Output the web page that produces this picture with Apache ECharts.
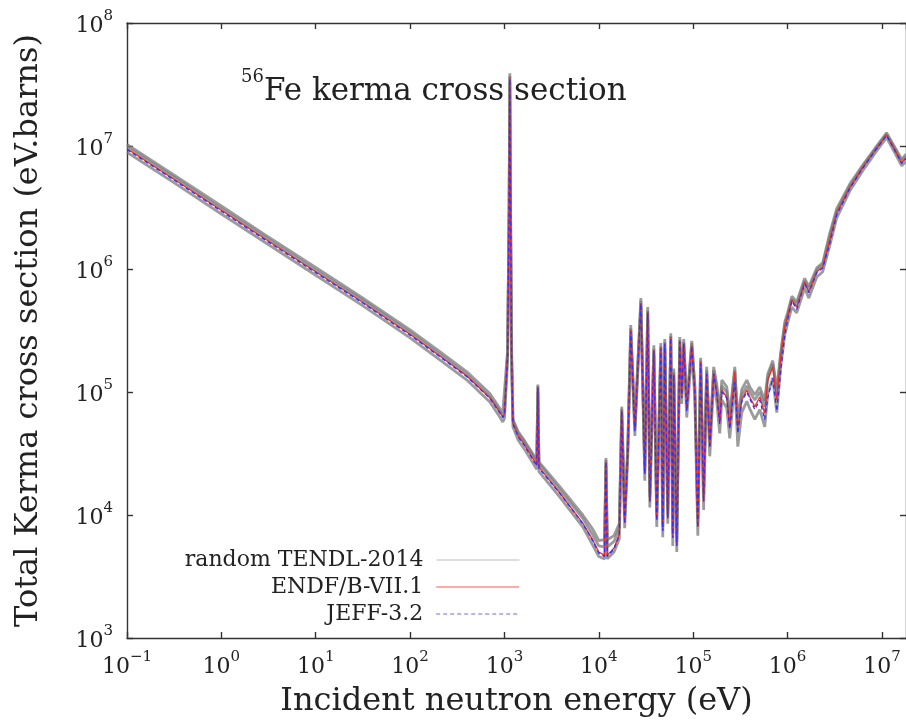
<!DOCTYPE html>
<html>
<head>
<meta charset="utf-8">
<script src="https://cdn.jsdelivr.net/npm/echarts@6/dist/echarts.min.js"></script>
<style>
html,body{margin:0;padding:0;background:#fff;}
#chart{width:906px;height:726px;}
</style>
</head>
<body>
<div id="chart"></div>
<script>
// Incident neutron energy (eV)
const energy = [
  0.1, 0.3, 1, 3, 10, 30, 100, 200, 400, 700,
  900, 960, 1000, 1080, 1120, 1140, 1160, 1190, 1230, 1400, 1600,
  2200, 2260, 2320, 3860, 6760, 8500, 10000, 11500, 11900, 12300, 14500,
  16500, 17500, 18800, 20300, 21800, 24100, 27900, 30700, 33000, 34700,
  38300, 41100, 45400, 47600, 50000, 53800, 57900, 60800, 62300, 67000,
  72100, 75700, 79400, 85500, 96600, 104000, 112000, 120000, 129000, 139000,
  150000, 165000, 178000, 191000, 201000, 227000, 244000, 276000, 297000, 327000,
  370000, 398000, 450000, 508000, 573000, 617000, 697000, 769000, 847000, 934000,
  1.0e6, 1.11e6, 1.25e6, 1.52e6, 1.68e6, 2.04e6, 2.36e6, 2.8e6, 3.32e6, 4.56e6,
  6.27e6, 8.8e6, 1.12e7, 1.37e7, 1.62e7, 1.8e7
];
// ENDF/B-VII.1 kerma (eV.barns)
const endf = [
  9.5e6, 5.5e6, 3.0e6, 1.73e6, 9.5e5, 5.5e5, 2.95e5, 2.0e5, 1.35e5, 9.0e4,
  6.8e4, 6.3e4, 6.6e4, 2.0e5, 3.0e6, 3.6e7, 3.0e6, 2.0e5, 5.6e4, 4.4e4, 3.8e4,
  2.55e4, 1.1e5, 2.45e4, 1.51e4, 8.6e3, 6.4e3, 5.0e3, 4.7e3, 2.7e4, 4.7e3, 5.4e3,
  7.0e3, 7.1e4, 8.6e3, 3.4e4, 3.2e5, 4.9e4, 5.3e5, 2.2e4, 4.5e5, 1.3e4,
  2.2e5, 9.1e3, 2.3e5, 7.5e3, 2.5e5, 9.6e3, 2.8e5, 6.6e3, 1.4e5, 5.7e3,
  2.6e5, 9.1e4, 2.5e5, 7.1e4, 2.4e5, 1.04e5, 8.0e3, 1.75e5, 1.3e4, 1.43e5,
  3.6e4, 1.43e5, 9.8e4, 5.6e4, 1.04e5, 9.1e4, 5.2e4, 1.45e5, 5.0e4, 8.6e4,
  1.04e5, 9.1e4, 7.6e4, 9.1e4, 6.7e4, 1.25e5, 1.6e5, 8.6e4, 1.93e5, 3.4e5,
  4.1e5, 5.6e5, 4.9e5, 7.8e5, 6.5e5, 9.5e5, 1.04e6, 1.72e6, 2.85e6, 4.6e6,
  6.7e6, 9.6e6, 1.23e7, 9.3e6, 7.3e6, 8.0e6
];
// JEFF-3.2 kerma (eV.barns)
const jeff = [
  9.35e6, 5.42e6, 2.95e6, 1.7e6, 9.35e5, 5.42e5, 2.9e5, 1.97e5, 1.33e5, 8.9e4,
  6.7e4, 6.2e4, 6.5e4, 2.0e5, 3.0e6, 3.5e7, 3.0e6, 2.0e5, 5.5e4, 4.3e4, 3.75e4,
  2.5e4, 1.08e5, 2.4e4, 1.5e4, 8.5e3, 6.3e3, 4.9e3, 4.6e3, 2.7e4, 4.6e3, 5.3e3,
  6.9e3, 7.0e4, 8.5e3, 3.3e4, 3.1e5, 4.8e4, 5.2e5, 2.15e4, 4.4e5, 1.28e4,
  2.15e5, 9.0e3, 2.25e5, 7.4e3, 2.45e5, 9.4e3, 2.75e5, 6.5e3, 1.38e5, 5.6e3,
  2.55e5, 8.9e4, 2.45e5, 7.0e4, 2.35e5, 1.0e5, 7.9e3, 1.7e5, 1.28e4, 1.4e5,
  3.5e4, 1.4e5, 9.6e4, 5.5e4, 1.0e5, 8.9e4, 5.0e4, 1.2e5, 4.6e4, 8.3e4,
  1.0e5, 8.8e4, 7.2e4, 8.6e4, 6.0e4, 9.0e4, 1.3e5, 7.0e4, 1.5e5, 2.9e5,
  3.8e5, 5.5e5, 4.7e5, 7.6e5, 6.4e5, 9.3e5, 1.02e6, 1.6e6, 2.75e6, 4.5e6,
  6.6e6, 9.5e6, 1.22e7, 9.2e6, 7.2e6, 7.9e6
];
// random TENDL-2014 samples (eV.barns)
const tendlA = [
  1.03e7, 5.95e6, 3.25e6, 1.87e6, 1.03e6, 5.95e5, 3.2e5, 2.17e5, 1.46e5, 9.7e4,
  7.3e4, 6.8e4, 7.0e4, 2.2e5, 3.3e6, 3.9e7, 3.3e6, 2.2e5, 6.0e4, 4.75e4, 4.1e4,
  2.8e4, 1.15e5, 2.7e4, 1.7e4, 1.0e4, 7.8e3, 6.2e3, 6.3e3, 2.9e4, 6.3e3, 6.8e3,
  8.5e3, 7.6e4, 1.0e4, 3.8e4, 3.5e5, 5.4e4, 5.8e5, 2.5e4, 4.9e5, 1.5e4,
  2.4e5, 1.05e4, 2.5e5, 8.5e3, 2.7e5, 1.1e4, 3.0e5, 7.5e3, 1.55e5, 6.5e3,
  2.8e5, 1.0e5, 2.7e5, 8.0e4, 2.6e5, 1.15e5, 9.5e3, 1.9e5, 1.6e4, 1.6e5,
  4.2e4, 1.6e5, 1.15e5, 6.8e4, 1.25e5, 1.1e5, 6.5e4, 1.6e5, 6.0e4, 1.05e5,
  1.25e5, 1.1e5, 9.5e4, 1.1e5, 8.5e4, 1.4e5, 1.8e5, 1.05e5, 2.1e5, 3.7e5,
  4.4e5, 6.0e5, 5.4e5, 8.4e5, 7.2e5, 1.02e6, 1.12e6, 1.95e6, 3.1e6, 4.9e6,
  7.0e6, 1.0e7, 1.28e7, 9.8e6, 7.8e6, 8.6e6
];
const tendlB = [
  8.9e6, 5.15e6, 2.8e6, 1.62e6, 8.9e5, 5.15e5, 2.75e5, 1.86e5, 1.25e5, 8.3e4,
  6.2e4, 5.7e4, 6.1e4, 1.8e5, 2.8e6, 3.3e7, 2.8e6, 1.8e5, 5.2e4, 4.05e4, 3.5e4,
  2.35e4, 1.0e5, 2.25e4, 1.4e4, 8.0e3, 5.8e3, 4.6e3, 4.4e3, 2.5e4, 4.4e3, 5.0e3,
  6.4e3, 6.5e4, 7.8e3, 3.1e4, 2.9e5, 4.4e4, 4.9e5, 1.9e4, 4.1e5, 1.15e4,
  2.0e5, 8.0e3, 2.1e5, 6.6e3, 2.3e5, 8.5e3, 2.55e5, 5.6e3, 1.25e5, 5.0e3,
  2.35e5, 8.0e4, 2.3e5, 6.2e4, 2.15e5, 9.0e4, 6.8e3, 1.55e5, 1.1e4, 1.25e5,
  3.0e4, 1.25e5, 8.2e4, 4.6e4, 8.6e4, 7.4e4, 4.2e4, 1.2e5, 3.6e4, 6.8e4,
  8.4e4, 7.3e4, 6.0e4, 7.2e4, 5.2e4, 9.6e4, 1.3e5, 6.8e4, 1.6e5, 2.9e5,
  3.6e5, 4.9e5, 4.4e5, 7.0e5, 5.8e5, 8.6e5, 9.5e5, 1.55e6, 2.6e6, 4.3e6,
  6.3e6, 9.1e6, 1.17e7, 8.8e6, 6.9e6, 7.5e6
];
const tendlC = [
  9.85e6, 5.7e6, 3.1e6, 1.79e6, 9.8e5, 5.7e5, 3.05e5, 2.06e5, 1.38e5, 9.1e4,
  6.9e4, 6.4e4, 6.8e4, 2.1e5, 3.1e6, 3.7e7, 3.1e6, 2.1e5, 5.8e4, 4.6e4, 4.0e4,
  2.7e4, 1.12e5, 2.6e4, 1.6e4, 9.4e3, 7.0e3, 5.6e3, 5.5e3, 2.8e4, 5.5e3, 6.1e3,
  7.8e3, 7.3e4, 9.4e3, 3.6e4, 3.3e5, 5.1e4, 5.5e5, 2.3e4, 4.6e5, 1.4e4,
  2.25e5, 9.8e3, 2.35e5, 8.0e3, 2.55e5, 1.0e4, 2.85e5, 7.0e3, 1.45e5, 6.0e3,
  2.65e5, 9.6e4, 2.55e5, 7.6e4, 2.5e5, 1.1e5, 8.6e3, 1.8e5, 1.4e4, 1.5e5,
  3.9e4, 1.5e5, 1.05e5, 6.2e4, 1.12e5, 1.0e5, 5.8e4, 1.5e5, 5.4e4, 9.4e4,
  1.12e5, 1.0e5, 8.6e4, 1.0e5, 7.6e4, 1.3e5, 1.7e5, 9.6e4, 2.0e5, 3.5e5,
  4.2e5, 5.7e5, 5.1e5, 8.0e5, 6.8e5, 9.8e5, 1.08e6, 1.85e6, 2.95e6, 4.7e6,
  6.85e6, 9.8e6, 1.25e7, 9.5e6, 7.5e6, 8.2e6
];
const seriesNames = ['random TENDL-2014', 'ENDF/B-VII.1', 'JEFF-3.2'];

const FONT = 'DejaVu Serif';
const pair = arr => energy.map((e, i) => [e, arr[i]]);

function powLabel(v) {
  const l = Math.log10(v);
  const ex = Math.round(l);
  if (Math.abs(l - ex) > 1e-6) return '';
  const s = ex < 0 ? '\u2212' + (-ex) : String(ex);
  return '{b|10}{s|' + s + '}';
}
const labelRich = {
  b: { fontFamily: FONT, fontSize: 22, color: '#222', lineHeight: 28, verticalAlign: 'bottom' },
  s: { fontFamily: FONT, fontSize: 15, color: '#222', lineHeight: 28, verticalAlign: 'top' }
};
const axisLine = { show: true, lineStyle: { color: '#333', width: 1.4 } };
const axisTick = { show: true, inside: true, length: 6, lineStyle: { color: '#333', width: 1.4 } };

const grayStyle = { color: '#7a7a7a', width: 2.8, opacity: 0.75 };
function grayLine(arr) {
  return {
    name: seriesNames[0], type: 'line', data: pair(arr), symbol: 'none', silent: true,
    lineStyle: grayStyle, itemStyle: { color: '#7a7a7a' }, z: 2
  };
}
const legendLines = [
  { color: '#a8a8a8', width: 1.2, type: 'solid' },
  { color: '#ff8c8c', width: 1.6, type: 'solid' },
  { color: '#9a9aff', width: 1.6, type: [4, 3] }
];

const chart = echarts.init(document.getElementById('chart'), null, { renderer: 'canvas' });
chart.setOption({
  animation: false,
  backgroundColor: '#ffffff',
  grid: { left: 127, right: -1, top: 23, bottom: 88 },
  title: {
    text: '{s|56}{m|Fe kerma cross section}',
    left: 236, top: 63,
    textStyle: {
      fontWeight: 'normal',
      rich: {
        s: { fontFamily: FONT, fontSize: 18, fontWeight: 'normal', color: '#222', lineHeight: 39, verticalAlign: 'top' },
        m: { fontFamily: FONT, fontSize: 31, fontWeight: 'normal', color: '#222', lineHeight: 39, verticalAlign: 'bottom' }
      }
    }
  },
  legend: [0, 1, 2].map(i => ({
    data: [{ name: seriesNames[i], lineStyle: legendLines[i], itemStyle: { opacity: 0 } }],
    right: 386, top: 549 + i * 27, padding: 0,
    align: 'right', orient: 'horizontal',
    itemWidth: 83, itemHeight: 12, itemGap: 14,
    selectedMode: false,
    itemStyle: { opacity: 0 },
    textStyle: { fontFamily: FONT, fontSize: 22, color: '#222', padding: [0, 8, 0, 0] }
  })),
  xAxis: [
    {
      type: 'log', logBase: 10, min: 0.1, max: 1.8e7, interval: 1,
      name: 'Incident neutron energy (eV)', nameLocation: 'middle', nameGap: 48,
      nameTextStyle: { fontFamily: FONT, fontSize: 32, color: '#222' },
      axisLine, axisTick, splitLine: { show: false }, minorTick: { show: false },
      axisLabel: { formatter: powLabel, rich: labelRich, margin: 12, showMaxLabel: false }
    },
    {
      type: 'log', logBase: 10, min: 0.1, max: 1.8e7, interval: 1, position: 'top',
      axisLine, axisTick, splitLine: { show: false }, axisLabel: { show: false }
    }
  ],
  yAxis: [
    {
      type: 'log', logBase: 10, min: 1e3, max: 1e8, interval: 1,
      name: 'Total Kerma cross section (eV.barns)', nameLocation: 'middle', nameGap: 82,
      nameTextStyle: { fontFamily: FONT, fontSize: 32, color: '#222' },
      axisLine, axisTick, splitLine: { show: false },
      axisLabel: { formatter: powLabel, rich: labelRich, margin: 14 }
    },
    {
      type: 'log', logBase: 10, min: 1e3, max: 1e8, interval: 1, position: 'right',
      axisLine, axisTick, splitLine: { show: false }, axisLabel: { show: false }
    }
  ],
  series: [
    grayLine(tendlA),
    grayLine(tendlB),
    grayLine(tendlC),
    {
      name: seriesNames[1], type: 'line', data: pair(endf), symbol: 'none', silent: true,
      lineStyle: { color: '#ee2a2a', width: 1.3 }, itemStyle: { color: '#ee2a2a' }, z: 3
    },
    {
      name: seriesNames[2], type: 'line', data: pair(jeff), symbol: 'none', silent: true,
      lineStyle: { color: '#2f2fff', width: 1.3, type: [4, 3] }, itemStyle: { color: '#2f2fff' }, z: 4
    }
  ]
});
</script>
</body>
</html>
